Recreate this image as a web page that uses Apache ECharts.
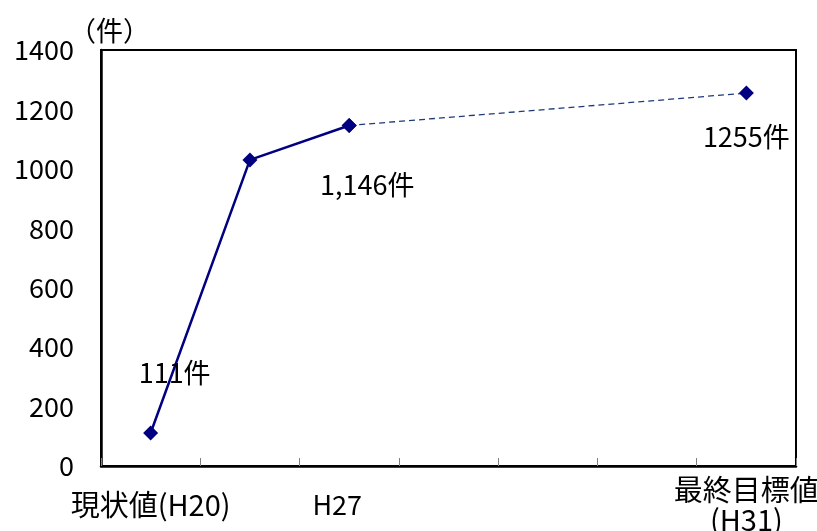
<!DOCTYPE html>
<html>
<head>
<meta charset="utf-8">
<script src="https://cdn.jsdelivr.net/npm/echarts@6/dist/echarts.min.js"></script>
<style>
  html, body { margin: 0; padding: 0; background: #fff; }
  #chart { width: 817px; height: 531px; }
</style>
</head>
<body>
<div id="chart"></div>
<script>
// Categories along the x axis (blank slots are the intermediate years)
const categories = ['現状値(H20)', '', 'H27', '', '', '', '最終目標値\n(H31)'];

// Actual results (solid line) and the path to the final target (dashed line)
const actualValues = [111, 1030, 1146, null, null, null, null];
const targetValues = [null, null, 1146, null, null, null, 1255];

// Which points get a value label, and whether it uses a thousands separator
const labelledActual = [true, false, true, false, false, false, false];
const labelledTarget = [false, false, false, false, false, false, true];
const commaFormat = [false, false, true, false, false, false, false];

// Value axis ticks
const yTicks = [0, 200, 400, 600, 800, 1000, 1200, 1400];

const FONT = '"Noto Sans CJK JP", "Noto Sans", sans-serif';
const NAVY = '#000080';

function fmt(v, i) {
  return (commaFormat[i] ? v.toLocaleString('en-US') : String(v)) + '件';
}

const labelOffsets = [[24, -60], null, [18, 59], null, null, null, [0, 44]];

function buildData(values, labelled) {
  return values.map((v, i) => {
    if (v === null) return null;
    const item = { value: v };
    if (labelled[i]) {
      item.label = {
        show: true,
        position: 'inside',
        offset: labelOffsets[i],
        formatter: () => fmt(v, i),
        color: '#000',
        fontSize: 27,
        fontFamily: FONT
      };
    }
    return item;
  });
}

const xLabelStyle = {
  margin: 39,
  verticalAlign: 'middle',
  lineHeight: 30,
  color: '#000',
  fontSize: 29,
  fontFamily: FONT
};

const chart = echarts.init(document.getElementById('chart'), null, { renderer: 'canvas' });

chart.setOption({
  animation: false,
  backgroundColor: '#fff',
  title: {
    text: '（件）',
    left: 64,
    top: 12,
    textStyle: { fontSize: 27, fontWeight: 'normal', color: '#000', fontFamily: FONT }
  },
  grid: {
    left: 101, right: 21, top: 50, bottom: 65,
    outerBoundsMode: 'none',
    containLabel: false,
    show: true, borderColor: '#000', borderWidth: 2, backgroundColor: 'transparent'
  },
  xAxis: {
    type: 'category',
    data: categories.map((c, i) => i === 2
      ? { value: c, textStyle: Object.assign({}, xLabelStyle, { fontSize: 27, padding: [0, 24, 0, 0] }) }
      : c),
    boundaryGap: true,
    axisLine: { show: true, lineStyle: { color: '#000', width: 2.5 } },
    axisTick: { show: true, inside: true, length: 8, interval: 0, lineStyle: { color: '#808080', width: 1 } },
    axisLabel: Object.assign({ interval: 0 }, xLabelStyle),
    splitLine: { show: false }
  },
  yAxis: {
    type: 'value',
    min: yTicks[0],
    max: yTicks[yTicks.length - 1],
    interval: yTicks[1] - yTicks[0],
    axisLine: { show: true, lineStyle: { color: '#000', width: 2.5 } },
    axisTick: { show: false },
    axisLabel: {
      margin: 27, color: '#000', fontSize: 27, fontFamily: FONT,
      formatter: v => String(v)
    },
    splitLine: { show: false }
  },
  series: [
    {
      type: 'line',
      data: buildData(targetValues, labelledTarget),
      connectNulls: true,
      symbol: 'diamond',
      symbolSize: 15,
      itemStyle: { color: NAVY },
      lineStyle: { color: '#1F3A7A', width: 1.3, type: [6, 4] },
      z: 2
    },
    {
      type: 'line',
      data: buildData(actualValues, labelledActual),
      symbol: 'diamond',
      symbolSize: 15,
      itemStyle: { color: NAVY },
      lineStyle: { color: NAVY, width: 2.5 },
      z: 3
    }
  ]
});
</script>
</body>
</html>
